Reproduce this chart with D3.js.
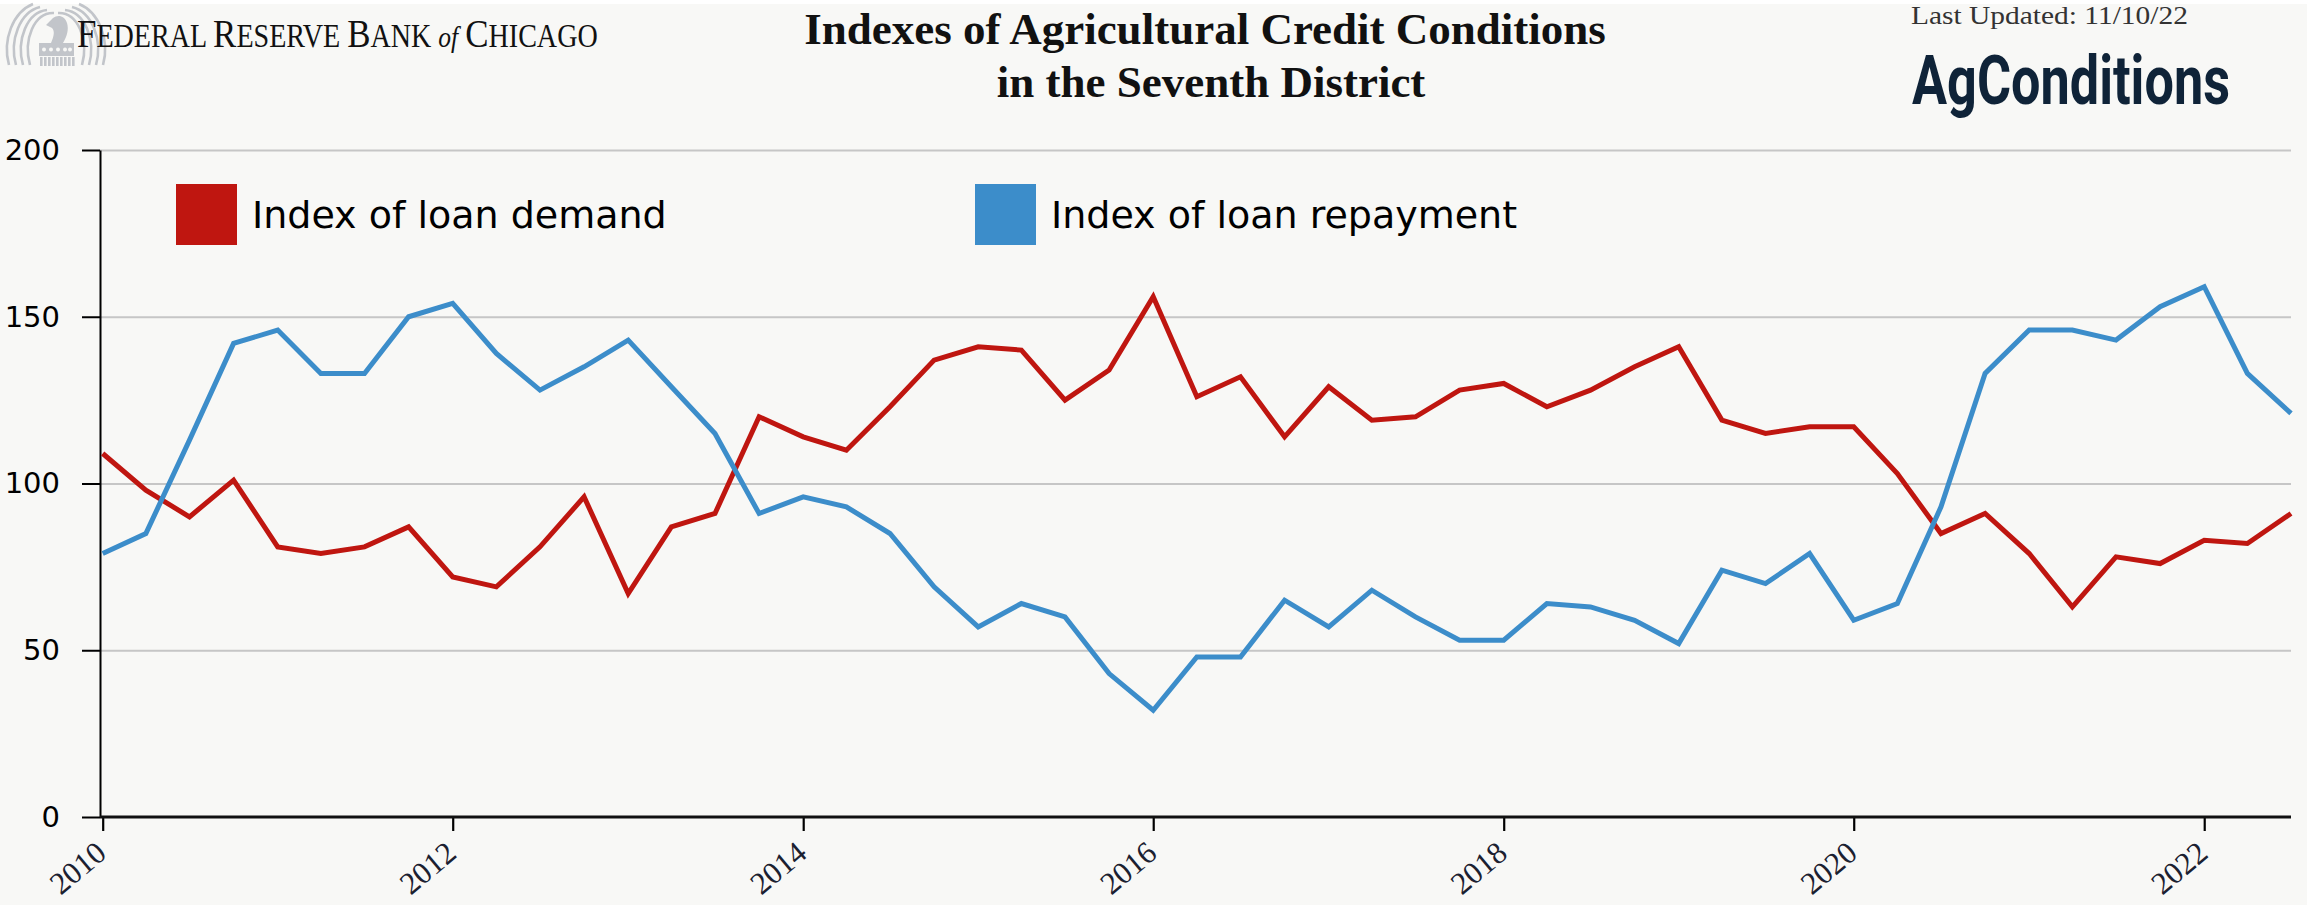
<!DOCTYPE html>
<html>
<head>
<meta charset="utf-8">
<script src="https://cdn.jsdelivr.net/npm/d3@7"></script>
<style>
  html, body { margin: 0; padding: 0; background: #f8f8f6; }
  svg { display: block; }
</style>
</head>
<body>
<div id="chart"></div>
<script>
// ---------------- DATA ----------------
const quarters = [
  "2010-01-01","2010-04-01","2010-07-01","2010-10-01",
  "2011-01-01","2011-04-01","2011-07-01","2011-10-01",
  "2012-01-01","2012-04-01","2012-07-01","2012-10-01",
  "2013-01-01","2013-04-01","2013-07-01","2013-10-01",
  "2014-01-01","2014-04-01","2014-07-01","2014-10-01",
  "2015-01-01","2015-04-01","2015-07-01","2015-10-01",
  "2016-01-01","2016-04-01","2016-07-01","2016-10-01",
  "2017-01-01","2017-04-01","2017-07-01","2017-10-01",
  "2018-01-01","2018-04-01","2018-07-01","2018-10-01",
  "2019-01-01","2019-04-01","2019-07-01","2019-10-01",
  "2020-01-01","2020-04-01","2020-07-01","2020-10-01",
  "2021-01-01","2021-04-01","2021-07-01","2021-10-01",
  "2022-01-01","2022-04-01","2022-07-01"
];
const loanDemand = [
  109, 98, 90,101,  81, 79, 81, 87,  72, 69, 81, 96,  67, 87, 91,120,
  114,110,123,137, 141,140,125,134, 156,126,132,114, 129,119,120,128,
  130,123,128,135, 141,119,115,117, 117,103, 85, 91,  79, 63, 78, 76,
   83, 82, 91
];
const loanRepayment = [
   79, 85,113,142, 146,133,133,150, 154,139,128,135, 143,129,115, 91,
   96, 93, 85, 69,  57, 64, 60, 43,  32, 48, 48, 65,  57, 68, 60, 53,
   53, 64, 63, 59,  52, 74, 70, 79,  59, 64, 93,133, 146,146,143,153,
  159,133,121
];
const seriesNames = ["Index of loan demand", "Index of loan repayment"];
const yTickValues = [0, 50, 100, 150, 200];
const xTickLabels = ["2010","2012","2014","2016","2018","2020","2022"];

// ---------------- SETUP ----------------
const W = 2307, H = 905;
const colors = ["#bf1610", "#3c8dca"];
const parse = d3.timeParse("%Y-%m-%d");
const dates = quarters.map(parse);

const svg = d3.select("#chart").append("svg")
  .attr("width", W).attr("height", H)
  .attr("viewBox", `0 0 ${W} ${H}`);

svg.append("rect").attr("width", W).attr("height", H).attr("fill", "#f8f8f6");
svg.append("rect").attr("width", W).attr("height", 4).attr("fill", "#ffffff");

const plotLeft = 100, plotRight = 2291, plotTop = 150, plotBottom = 817;

const x = d3.scaleTime()
  .domain([dates[0], dates[dates.length - 1]])
  .range([102.7, plotRight]);
const y = d3.scaleLinear().domain([0, 200]).range([plotBottom, plotTop]);

// ---------------- HEADER ----------------
// Logo (stylised eagle)
const logo = svg.append("g").attr("class", "logo");
const lg = "#c2c5ca";
const cx = 56;
[0, 1, 2, 3].forEach(k => {
  const xo = 9 + k * 7;
  logo.append("path")
    .attr("d", `M${xo},65 C${xo - 7},40 ${xo + 4},12 ${xo + 24},${4 + k * 3}`)
    .attr("fill", "none").attr("stroke", lg).attr("stroke-width", 2.6);
  const xr = 2 * cx - xo;
  logo.append("path")
    .attr("d", `M${xr},65 C${xr + 7},40 ${xr - 4},12 ${xr - 24},${4 + k * 3}`)
    .attr("fill", "none").attr("stroke", lg).attr("stroke-width", 2.6);
});
// head
logo.append("path")
  .attr("d", "M46,25 L53,18 C58,14 65,16 67,23 C69,30 67,36 63,43 L51,43 C54,36 55,31 52,28 Z")
  .attr("fill", lg);
// shield
logo.append("rect").attr("x", 39).attr("y", 43).attr("width", 35).attr("height", 13).attr("fill", lg);
[44, 51, 58, 65, 70].forEach(sx => {
  logo.append("circle").attr("cx", sx).attr("cy", 49.5).attr("r", 2).attr("fill", "#f8f8f6");
});
d3.range(40, 74, 4).forEach(sx => {
  logo.append("rect").attr("x", sx).attr("y", 57).attr("width", 2.6).attr("height", 9).attr("fill", lg);
});

// Bank name in small caps, scaled to width
const bank = svg.append("text")
  .attr("font-family", "'Liberation Serif', 'DejaVu Serif', serif")
  .attr("fill", "#111")
  .attr("transform", "translate(77,47)");
const bankParts = [
  ["F", 41], ["EDERAL ", 33], ["R", 41], ["ESERVE ", 33], ["B", 41], ["ANK ", 33],
  ["of", 30, "italic"], [" ", 33], ["C", 41], ["HICAGO", 33]
];
bankParts.forEach(p => {
  bank.append("tspan").attr("font-size", p[1])
    .attr("font-style", p[2] || "normal")
    .attr("xml:space", "preserve")
    .text(p[0]);
});
const bankLen = bank.node().getComputedTextLength();
bank.attr("transform", `translate(77,47) scale(${521 / bankLen},1)`);

// Title
const titleLines = ["Indexes of Agricultural Credit Conditions", "in the Seventh District"];
[[1205, 44], [1211, 97]].forEach((p, i) => {
  svg.append("text")
    .attr("x", p[0]).attr("y", p[1])
    .attr("text-anchor", "middle")
    .attr("font-family", "'Liberation Serif', 'DejaVu Serif', serif")
    .attr("font-weight", "bold").attr("font-size", 45).attr("fill", "#111")
    .text(titleLines[i]);
});

// Last updated
const lu = svg.append("text")
  .attr("font-family", "'Liberation Serif', serif")
  .attr("font-size", 26).attr("fill", "#333")
  .text("Last Updated: 11/10/22");
const luLen = lu.node().getComputedTextLength();
lu.attr("transform", `translate(1911,24) scale(${277 / luLen},1)`);

// AgConditions
const ag = svg.append("text")
  .attr("font-family", "Roboto, 'Liberation Sans', sans-serif")
  .attr("font-weight", "bold").attr("font-size", 68).attr("fill", "#0f2338")
  .text("AgConditions");
const agLen = ag.node().getComputedTextLength();
ag.attr("transform", `translate(1912,104) scale(${318 / agLen},1)`);

// ---------------- GRID + AXES ----------------
svg.append("g")
  .attr("transform", `translate(${plotLeft},0)`)
  .call(d3.axisLeft(y).tickValues(yTickValues.filter(v => v > 0))
    .tickSize(-(plotRight - plotLeft)).tickFormat(""))
  .call(g => g.select(".domain").remove())
  .call(g => g.selectAll("line").attr("stroke", "#c6c6c6").attr("stroke-width", 2.2));

const yAxis = svg.append("g")
  .attr("transform", `translate(${plotLeft},0)`)
  .call(d3.axisLeft(y).tickValues(yTickValues).tickSize(18).tickSizeOuter(0).tickPadding(22));
yAxis.select(".domain").attr("stroke", "#000").attr("stroke-width", 2);
yAxis.selectAll(".tick line").attr("stroke", "#000").attr("stroke-width", 2);
yAxis.selectAll(".tick text")
  .attr("font-family", "'DejaVu Sans', Verdana, sans-serif")
  .attr("font-size", 29).attr("fill", "#000");

const xTickDates = xTickLabels.map(t => parse(t + "-01-01"));
const xAxis = svg.append("g")
  .attr("transform", `translate(0,${plotBottom})`)
  .call(d3.axisBottom(x).tickValues(xTickDates).tickSize(14).tickSizeOuter(0)
    .tickFormat((d, i) => xTickLabels[i]));
xAxis.select(".domain").remove();
xAxis.selectAll(".tick line").attr("stroke", "#000").attr("stroke-width", 2.2);
xAxis.selectAll(".tick text")
  .attr("font-family", "'Liberation Serif', serif")
  .attr("font-size", 31).attr("fill", "#1b2030")
  .attr("text-anchor", "end")
  .attr("y", 0).attr("dy", 0)
  .attr("transform", "translate(5,39) rotate(-40)");

// baseline (x axis line)
svg.append("line")
  .attr("x1", plotLeft).attr("x2", plotRight)
  .attr("y1", y(0)).attr("y2", y(0))
  .attr("stroke", "#111").attr("stroke-width", 3);

// ---------------- LINES ----------------
const series = [loanDemand, loanRepayment];
const line = d3.line()
  .x((d, i) => x(dates[i]))
  .y(d => y(d));
series.forEach((vals, s) => {
  svg.append("path")
    .datum(vals)
    .attr("d", line)
    .attr("fill", "none")
    .attr("stroke", colors[s])
    .attr("stroke-width", 5)
    .attr("stroke-linejoin", "miter");
});

// ---------------- LEGEND ----------------
const legendX = [176, 975];
seriesNames.forEach((name, s) => {
  svg.append("rect")
    .attr("x", legendX[s]).attr("y", 184)
    .attr("width", 61).attr("height", 61)
    .attr("fill", colors[s]);
  svg.append("text")
    .attr("x", legendX[s] + 76).attr("y", 228)
    .attr("font-family", "'DejaVu Sans', Verdana, sans-serif")
    .attr("font-size", 38).attr("fill", "#000")
    .text(name);
});
</script>
</body>
</html>
